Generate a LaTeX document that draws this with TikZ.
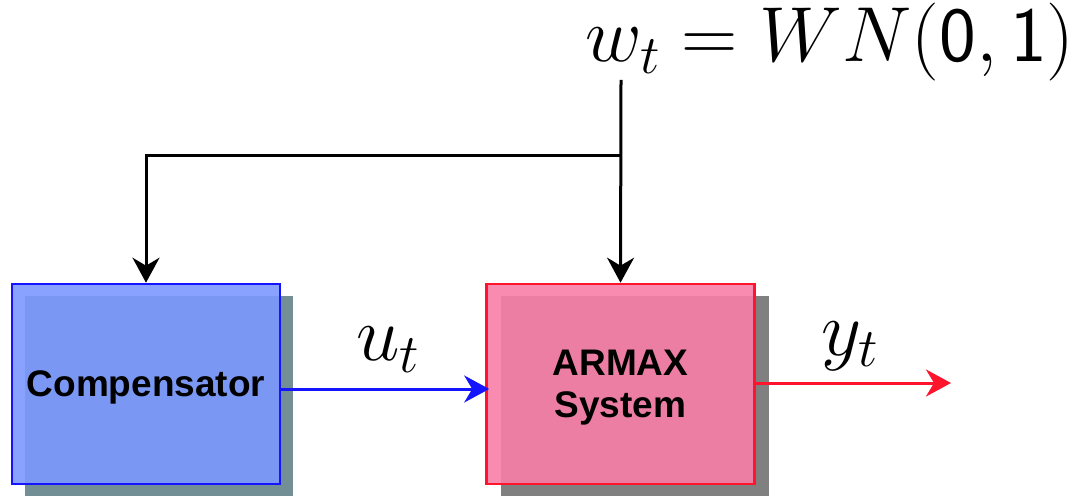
\RequirePackage{fix-cm}
\documentclass[tikz,border=0pt]{standalone}
\usepackage{fontspec}
\setsansfont{Liberation Sans}
\usepackage{tikz}
\usetikzlibrary{arrows.meta,positioning,shadows}
\definecolor{compfill}{RGB}{125,152,255}
\definecolor{compline}{RGB}{20,20,255}
\definecolor{compshade}{RGB}{114,143,150}
\definecolor{sysfill}{RGB}{248,126,167}
\definecolor{sysline}{RGB}{255,20,45}
\definecolor{sysshade}{RGB}{128,128,128}
\newcommand{\sfdigit}[1]{\mbox{\usefont{OT1}{cmss}{m}{n}#1}}
\tikzset{box/.style={draw,line width=1.3pt,fill opacity=0.9,text opacity=1,minimum width=134pt,minimum height=100pt,align=center,text depth=0pt,font=\sffamily\bfseries\fontsize{18.5}{21}\selectfont,inner sep=0pt},compbox/.style={box,draw=compline,fill=compfill,drop shadow={shadow xshift=6.5pt,shadow yshift=-6pt,fill=compshade,opacity=1}},sysbox/.style={box,draw=sysline,fill=sysfill,drop shadow={shadow xshift=7pt,shadow yshift=-6pt,fill=sysshade,opacity=1}},arr/.style={-{Stealth[length=12.5pt,width=13.5pt,inset=4pt]},line width=1.5pt},sig/.style={inner sep=0pt,font=\fontsize{39}{45}\selectfont}}

\begin{document}
\begin{tikzpicture}[x=0.5pt,y=-0.5pt]
\useasboundingbox (0,0) rectangle (1085,496);
\node[sig] (noise) at (830,42) {$w_t = WN(\sfdigit{0},\sfdigit{1})$};
\coordinate (wtop) at (621,80);
\coordinate (split) at (621,156);
\node[compbox] (comp) at (146,384) {Compensator};
\node[sysbox] (sys) at (620.5,384) {ARMAX\\System};
\coordinate (yout) at (951,383);
\draw[arr] (wtop) -- (sys.north);
\draw[arr] (split) -| (comp.north);
\draw[arr,compline] ([yshift=-2.5pt]comp.east) -- ([yshift=-2.5pt,xshift=2pt]sys.west);
\draw[arr,sysline] ([yshift=0.5pt]sys.east) -- (yout);
\node[sig] (ulab) at (388,350) {$u_t$};
\node[sig] (ylab) at (850,346) {$y_t$};
\end{tikzpicture}
\end{document}
